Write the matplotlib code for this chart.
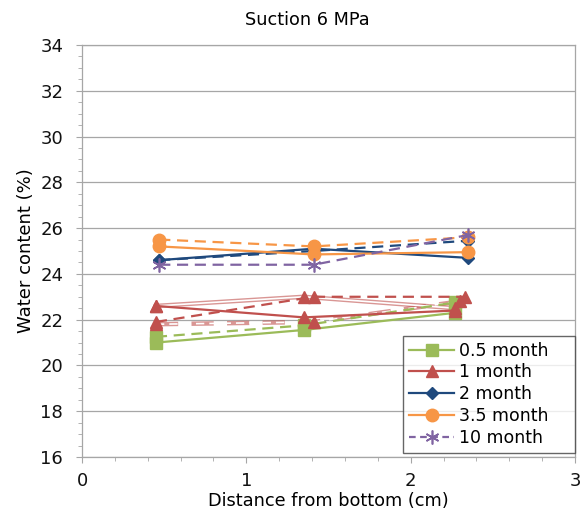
import matplotlib.pyplot as plt
from matplotlib.ticker import MultipleLocator
from matplotlib.lines import Line2D

# distances (cm) for the two sets of measurements
dist_a = [0.45, 1.35, 2.27]
dist_b = [0.47, 1.41, 2.35]

# water content (%) per sample
w_05_s = [21.0, 21.55, 22.3]
w_05_d = [21.25, 21.75, 22.75]
w_1_s = [22.6, 22.1, 22.4]
w_1_d = [21.9, 23.0, 23.0]
w_1_cs = [22.6, 23.0, 22.5]
w_1_cd = [21.8, 21.9, 22.8]
w_2_s = [24.6, 25.1, 24.7]
w_2_d = [24.6, 25.0, 25.45]
w_35_s = [25.2, 24.85, 24.95]
w_35_d = [25.5, 25.2, 25.6]
w_10_d = [24.4, 24.4, 25.7]

labels = ["0.5 month", "1 month", "2 month", "3.5 month", "10 month"]

GREEN = "#9BBB59"
RED = "#C0504D"
BLUE = "#1F497D"
ORANGE = "#F79646"
PURPLE = "#8064A2"

plt.rcParams["font.family"] = ["DejaVu Sans"]

fig = plt.figure(figsize=(5.82, 5.23), dpi=100)
ax = fig.add_axes([82 / 582, 1 - 457 / 523, 493 / 582, 412 / 523])

lw = 1.6
dash = (0, (5, 3))


def double_line(x, y, color, ls):
    # compound (double) line: coloured stroke with a white core
    ax.plot(x, y, color=color, lw=3.2, ls=ls, alpha=0.6, zorder=2)
    ax.plot(x, y, color="white", lw=1.2, ls=ls, zorder=2.1)
    ax.plot(x, y, ls="none", marker="^", ms=9, color=RED, zorder=3)


ax.plot(dist_a, w_05_s, color=GREEN, lw=lw, marker="s", ms=9, zorder=3)
ax.plot(dist_a, w_05_d, color=GREEN, lw=lw, ls=dash, marker="s", ms=9, zorder=3)

double_line([0.45, 1.35, 2.27], w_1_cs, RED, "-")
double_line([0.45, 1.41, 2.30], w_1_cd, RED, dash)
ax.plot([0.45, 1.35, 2.27], w_1_s, color=RED, lw=lw, marker="^", ms=9, zorder=3)
ax.plot([0.45, 1.41, 2.33], w_1_d, color=RED, lw=lw, ls=dash, marker="^", ms=9, zorder=3)

ax.plot(dist_b, w_2_s, color=BLUE, lw=lw, marker="D", ms=6, zorder=3)
ax.plot(dist_b, w_2_d, color=BLUE, lw=lw, ls=dash, marker="D", ms=6, zorder=3)

ax.plot(dist_b, w_35_s, color=ORANGE, lw=lw, marker="o", ms=9, zorder=3)
ax.plot(dist_b, w_35_d, color=ORANGE, lw=lw, ls=dash, marker="o", ms=9, zorder=3)

ax.plot(dist_b, w_10_d, color=PURPLE, lw=lw, ls=dash, marker=(6, 2, 0), ms=10,
        mew=1.2, zorder=4)

ax.set_xlim(0, 3)
ax.set_ylim(16, 34)
ax.xaxis.set_major_locator(MultipleLocator(1))
ax.xaxis.set_minor_locator(MultipleLocator(0.2))
ax.yaxis.set_major_locator(MultipleLocator(2))
ax.yaxis.set_minor_locator(MultipleLocator(0.5))
ax.grid(axis="y", which="major", color="#A6A6A6", lw=0.9)
ax.set_axisbelow(True)

for s in ax.spines.values():
    s.set_color("#A6A6A6")
    s.set_linewidth(0.9)

ax.tick_params(which="major", direction="out", length=4.5, color="#A6A6A6",
               labelsize=13, labelcolor="#111111")
ax.tick_params(which="minor", direction="out", length=3.2, color="#A6A6A6")
ax.tick_params(axis="y", pad=9)
ax.tick_params(axis="x", pad=6)

ax.set_xlabel("Distance from bottom (cm)", fontsize=12.8, labelpad=2)
ax.set_ylabel("Water content (%)", fontsize=13, labelpad=4)
fig.text(307 / 582, 1 - 20 / 523, "Suction 6 MPa", fontsize=12.7,
         ha="center", va="center")

handles = [
    Line2D([], [], color=GREEN, lw=lw, marker="s", ms=9),
    Line2D([], [], color=RED, lw=lw, marker="^", ms=9),
    Line2D([], [], color=BLUE, lw=lw, marker="D", ms=6),
    Line2D([], [], color=ORANGE, lw=lw, marker="o", ms=9),
    Line2D([], [], color=PURPLE, lw=lw, ls=(0, (3, 2)), marker=(6, 2, 0), ms=10, mew=1.2),
]
# legend box stretched to the lower right corner of the plot
leg = ax.legend(handles, labels, loc="lower left", mode="expand", fontsize=12.5,
                frameon=True, fancybox=False, edgecolor="#404040",
                handlelength=2.6, handletextpad=0.3, labelspacing=0.22,
                borderpad=0.35, borderaxespad=0,
                bbox_to_anchor=(321 / 493, 4 / 412, 172 / 493, 0.3))
leg.get_frame().set_linewidth(1.0)

fig.savefig("out.png", dpi=100)
